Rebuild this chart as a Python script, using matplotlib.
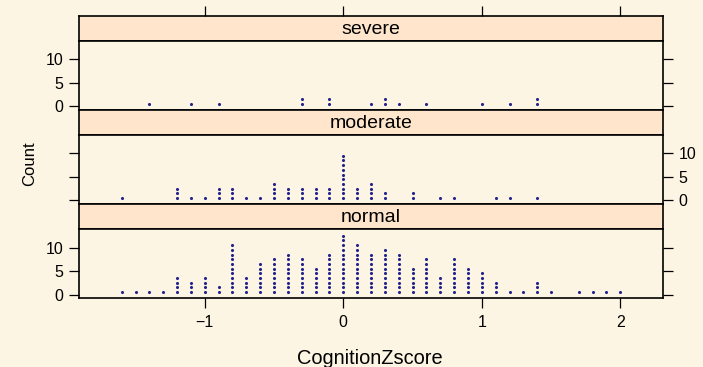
import matplotlib
matplotlib.use('Agg')
import matplotlib.pyplot as plt
import numpy as np

plt.rcParams['font.family'] = ['Liberation Sans', 'DejaVu Sans']

# CognitionZscore values (rounded to 0.1) and how many people sit on each
severe_x = [-1.4, -1.1, -0.9, -0.3, -0.1, 0.2, 0.3, 0.4, 0.6, 1.0, 1.2, 1.4]
severe_n = [1, 1, 1, 2, 2, 1, 2, 1, 1, 1, 1, 2]

moderate_x = [-1.6, -1.2, -1.1, -1.0, -0.9, -0.8, -0.7, -0.6, -0.5, -0.4, -0.3, -0.2, -0.1,
              0.0, 0.1, 0.2, 0.3, 0.5, 0.7, 0.8, 1.1, 1.2, 1.4]
moderate_n = [1, 3, 1, 1, 3, 3, 1, 1, 4, 3, 3, 3, 3,
              10, 3, 4, 2, 2, 1, 1, 1, 1, 1]

normal_x = [-1.6, -1.5, -1.4, -1.3, -1.2, -1.1, -1.0, -0.9, -0.8, -0.7, -0.6, -0.5, -0.4,
            -0.3, -0.2, -0.1, 0.0, 0.1, 0.2, 0.3, 0.4, 0.5, 0.6, 0.7, 0.8, 0.9, 1.0,
            1.1, 1.2, 1.3, 1.4, 1.5, 1.7, 1.8, 1.9, 2.0]
normal_n = [1, 1, 1, 1, 4, 3, 4, 2, 11, 4, 7, 8, 9,
            8, 6, 9, 13, 11, 9, 10, 9, 6, 8, 4, 8, 6, 5,
            3, 1, 1, 3, 1, 1, 1, 1, 1]

panels = [('severe', severe_x, severe_n, 'left'),
          ('moderate', moderate_x, moderate_n, 'right'),
          ('normal', normal_x, normal_n, 'left')]

bg = '#FDF5E3'
strip_col = '#FFE5CC'
dot_col = '#23238E'

W, H = 703, 367
fig = plt.figure(figsize=(W / 100, H / 100), dpi=100, facecolor=bg)

left, right = 79, 663
top = 16
strip_h = 25.0
panel_h = 69.1
xlim = (-1.908, 2.308)
ylim = (-0.8, 13.9)


def box(x0, y0, x1, y1):
    return [x0 / W, 1 - y1 / H, (x1 - x0) / W, (y1 - y0) / H]


y = top
for i, (name, xs, ns, side) in enumerate(panels):
    # strip
    sax = fig.add_axes(box(left, y, right, y + strip_h))
    sax.set_facecolor(strip_col)
    sax.set_xlim(xlim)
    sax.set_yticks([])
    sax.text(0.5, 0.47, name, transform=sax.transAxes, ha='center', va='center', fontsize=14)
    if i == 0:
        sax.set_xticks([-1, 0, 1, 2])
        sax.tick_params(axis='x', top=True, bottom=False, labeltop=False, labelbottom=False,
                        direction='out', length=7, width=0.9)
    else:
        sax.set_xticks([])
    for sp in sax.spines.values():
        sp.set_linewidth(1.2)
    y += strip_h

    # panel
    ax = fig.add_axes(box(left, y, right, y + panel_h))
    ax.set_facecolor(bg)
    px, py = [], []
    for xv, n in zip(xs, ns):
        for k in range(n):
            px.append(xv)
            py.append(k + 0.5)
    ax.scatter(px, py, s=5, color=dot_col, linewidths=0, zorder=3)
    ax.set_xlim(xlim)
    ax.set_ylim(ylim)
    ax.set_yticks([0, 5, 10])
    ax.tick_params(axis='y', left=True, right=True, labelleft=(side == 'left'),
                   labelright=(side == 'right'), direction='out', length=7, width=0.9,
                   labelsize=11.5, pad=4)
    if i == 2:
        ax.set_xticks([-1, 0, 1, 2])
        ax.set_xticklabels(['\u22121', '0', '1', '2'])
        ax.tick_params(axis='x', direction='out', length=7, width=0.9, labelsize=11.5, pad=5)
    else:
        ax.set_xticks([])
    for sp in ax.spines.values():
        sp.set_linewidth(1.2)
    y += panel_h

fig.text(370 / W, 1 - 358 / H, 'CognitionZscore', ha='center', va='center', fontsize=14.4)
fig.text(30 / W, 1 - 164 / H, 'Count', ha='center', va='center', rotation=90, fontsize=12)

fig.savefig('out.png', dpi=100, facecolor=bg)
